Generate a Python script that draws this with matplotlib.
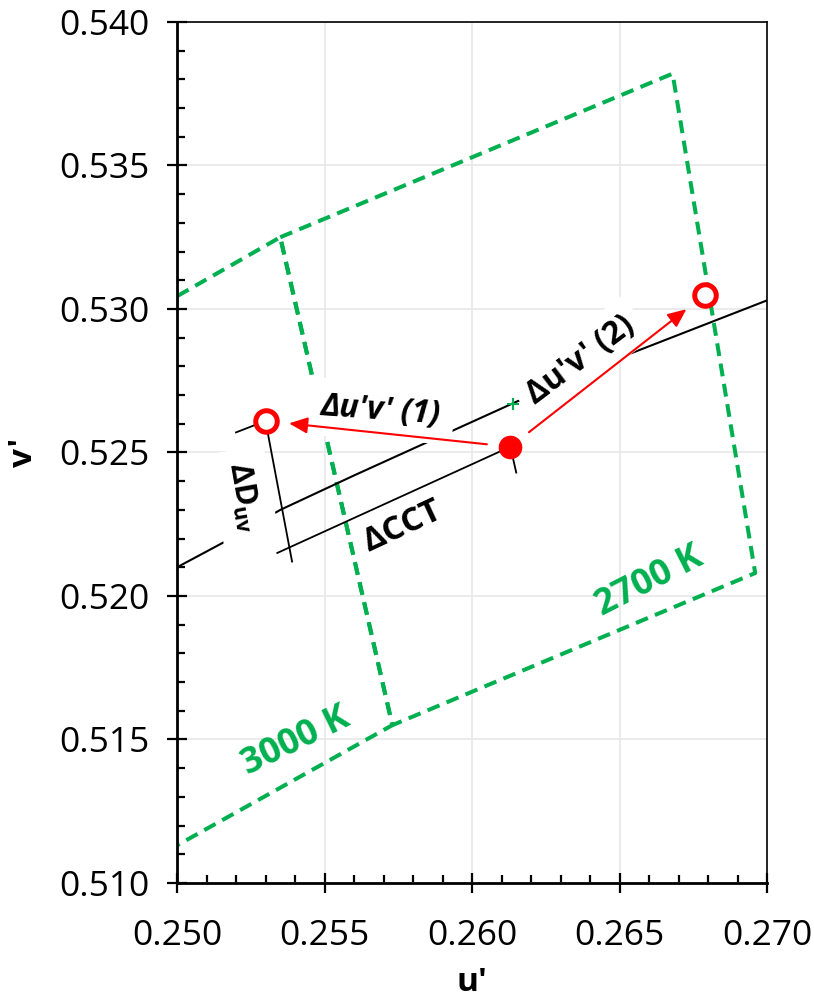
import numpy as np
import matplotlib
matplotlib.use('Agg')
import matplotlib.pyplot as plt
from matplotlib.ticker import MultipleLocator

plt.rcParams['font.family'] = ['Open Sans', 'DejaVu Sans']
plt.rcParams['mathtext.fontset'] = 'custom'
plt.rcParams['mathtext.rm'] = 'Open Sans'
plt.rcParams['mathtext.bf'] = 'Open Sans:bold'
plt.rcParams['mathtext.it'] = 'Open Sans:italic'

# ANSI quadrangles in u'v'
box_2700_u = [0.2535, 0.2668, 0.2696, 0.2573, 0.2535]
box_2700_v = [0.5325, 0.5382, 0.5208, 0.5155, 0.5325]
box_3000_u = [0.2409, 0.2535, 0.2573, 0.2458, 0.2409]
box_3000_v = [0.5251, 0.5325, 0.5155, 0.5089, 0.5251]

# Planckian locus
locus_u = [0.2500, 0.2520, 0.2535, 0.2560, 0.2590, 0.2620, 0.2650, 0.2680, 0.2700]
locus_v = [0.5210, 0.5221, 0.5230, 0.5242, 0.5256, 0.5270, 0.5283, 0.5295, 0.5303]

# dimension lines
ext1_u = [0.2520, 0.2530]
ext1_v = [0.5257, 0.5261]
duv_u = [0.2530, 0.2539]
duv_v = [0.5261, 0.5212]
dcct_u = [0.2534, 0.2613]
dcct_v = [0.5215, 0.5252]
tick_u = [0.2613, 0.2615]
tick_v = [0.5252, 0.5243]

# points
test_pt = (0.2613, 0.5252)
pt1 = (0.2530, 0.5261)
pt2 = (0.2679, 0.5305)
cct_pt = (0.2614, 0.5267)

green = '#00B050'
red = '#FF0000'

fig = plt.figure(figsize=(8.14, 9.97), dpi=100)
ax = fig.add_axes([177 / 814, 1 - 883 / 997, 590 / 814, 861 / 997])
ax.set_xlim(0.250, 0.270)
ax.set_ylim(0.510, 0.540)

ax.xaxis.set_major_locator(MultipleLocator(0.005))
ax.xaxis.set_minor_locator(MultipleLocator(0.001))
ax.yaxis.set_major_locator(MultipleLocator(0.005))
ax.yaxis.set_minor_locator(MultipleLocator(0.001))
ax.xaxis.set_major_formatter(plt.FormatStrFormatter('%.3f'))
ax.yaxis.set_major_formatter(plt.FormatStrFormatter('%.3f'))
ax.tick_params(which='major', direction='inout', length=14, width=1.6,
               labelsize=25.5, pad=13)
ax.tick_params(which='minor', direction='in', length=6, width=1.6)
ax.tick_params(axis='x', which='major', pad=19)
ax.grid(True, which='major', color='#e8e8e8', lw=1.2, zorder=0)
ax.set_axisbelow(True)

for s in ['left', 'bottom']:
    ax.spines[s].set_linewidth(2.0)
for s in ['top', 'right']:
    ax.spines[s].set_linewidth(1.2)

ax.set_xlabel("u'", fontsize=24, fontweight='bold', labelpad=9)
ax.set_ylabel("v'", fontsize=24, fontweight='bold', labelpad=14)

# quadrangles
ax.plot(box_3000_u, box_3000_v, color=green, lw=2.9, ls=(0, (3.2, 1.9)), zorder=2)
ax.plot(box_2700_u, box_2700_v, color=green, lw=2.9, ls=(0, (3.2, 1.9)), zorder=2)

# locus and dimension lines
ax.plot(locus_u, locus_v, color='black', lw=1.5, zorder=2)
ax.plot(ext1_u, ext1_v, color='black', lw=1.3, zorder=2)
ax.plot(duv_u, duv_v, color='black', lw=1.3, zorder=2)
ax.plot(dcct_u, dcct_v, color='black', lw=1.3, zorder=2)
ax.plot(tick_u, tick_v, color='black', lw=1.3, zorder=2)

ax.text(0.25763, 0.52240, 'ΔCCT', fontsize=24, fontweight='bold', rotation=25,
        ha='center', va='center', rotation_mode='anchor',
        bbox=dict(facecolor='white', edgecolor='none', pad=3), zorder=4)
ax.text(0.25227, 0.52345, r'$\mathbf{\Delta D_{uv}}$', fontsize=22, rotation=-80,
        ha='center', va='center', rotation_mode='anchor',
        bbox=dict(facecolor='white', edgecolor='none', pad=9), zorder=4)
ax.text(0.25692, 0.52645, "Δu'v' (1)", fontsize=23, fontweight='bold', style='italic',
        rotation=-4, ha='center', va='center', rotation_mode='anchor',
        bbox=dict(facecolor='white', edgecolor='none', pad=9), zorder=4)
ax.text(0.26366, 0.52822, "Δu'v' (2)", fontsize=23, fontweight='bold', rotation=37,
        ha='center', va='center', rotation_mode='anchor',
        bbox=dict(facecolor='white', edgecolor='none', pad=7), zorder=4)
ax.text(0.25403, 0.51491, '3000 K', fontsize=26, fontweight='bold', color=green,
        rotation=26, ha='center', va='center', rotation_mode='anchor', zorder=4)
ax.text(0.26603, 0.52049, '2700 K', fontsize=26, fontweight='bold', color=green,
        rotation=27, ha='center', va='center', rotation_mode='anchor', zorder=4)

# arrows from the test point
arrow = dict(arrowstyle='-|>,head_length=0.8,head_width=0.35', color=red, lw=1.5,
             shrinkA=17, shrinkB=17, mutation_scale=14)
ax.annotate('', xy=pt1, xytext=test_pt, arrowprops=arrow, zorder=5)
ax.annotate('', xy=pt2, xytext=test_pt, arrowprops=arrow, zorder=5)

ax.plot(*cct_pt, marker='+', color=green, ms=9, mew=1.5, zorder=6)
ax.plot(*test_pt, marker='o', color=red, ms=16, mec=red, zorder=6)
ax.plot(*pt1, marker='o', mfc='white', mec=red, ms=15.5, mew=3.6, zorder=6)
ax.plot(*pt2, marker='o', mfc='white', mec=red, ms=15.5, mew=3.6, zorder=6)

fig.savefig('out.png', dpi=100)
